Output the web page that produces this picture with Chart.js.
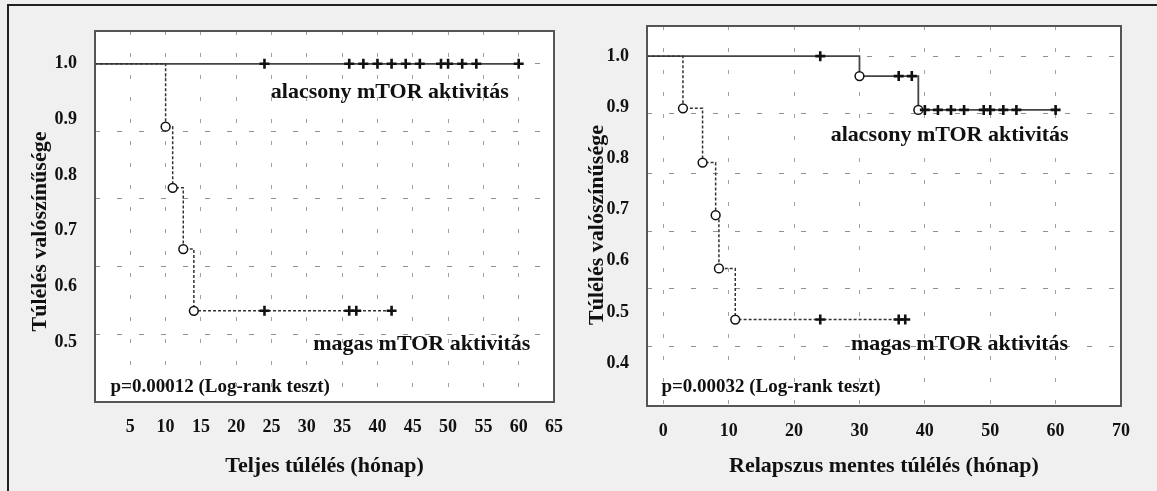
<!DOCTYPE html>
<html>
<head>
<meta charset="utf-8">
<script src="https://cdn.jsdelivr.net/npm/chart.js@4"></script>
<style>
  body { margin: 0; background: #f0f0f0; width: 1157px; height: 491px; overflow: hidden; position: relative; }
  #frame { position: absolute; left: 7px; top: 4px; right: 0; bottom: 0; border-top: 2px solid #222; border-left: 2px solid #222; }
  canvas { position: absolute; top: 0; }
  #left { left: 0; }
  #right { left: 578px; }
</style>
</head>
<body>
<div id="frame"></div>
<canvas id="left" width="578" height="491"></canvas>
<canvas id="right" width="579" height="491"></canvas>
<script>
// Teljes túlélés (bal panel)
const osLowCensored = [24, 36, 38, 40, 42, 44, 46, 49, 50, 52, 54, 60];
const osHighEventTimes = [10, 11, 12.5, 14];
const osHighEventValues = [0.887, 0.777, 0.667, 0.556];
const osHighCensored = [24, 36, 37, 42];
const osXTicks = [5, 10, 15, 20, 25, 30, 35, 40, 45, 50, 55, 60, 65];
const osYTicks = [0.5, 0.6, 0.7, 0.8, 0.9, 1.0];
const osGridY = [1.0, 0.879, 0.757, 0.635, 0.514];

// Relapszus mentes túlélés (jobb panel)
const rfsLowEventTimes = [30, 39];
const rfsLowEventValues = [0.961, 0.895];
const rfsLowCensored = [24, 36, 38, 40, 42, 44, 46, 49, 50, 52, 54, 60];
const rfsHighEventTimes = [3, 6, 8, 8.5, 11];
const rfsHighEventValues = [0.898, 0.792, 0.689, 0.585, 0.485];
const rfsHighCensored = [24, 36, 37];
const rfsXTicks = [0, 10, 20, 30, 40, 50, 60, 70];
const rfsYTicks = [0.4, 0.5, 0.6, 0.7, 0.8, 0.9, 1.0];
const rfsGridY = [1.0, 0.887, 0.771, 0.658, 0.545, 0.432];

const osNotes = [
  { text: "alacsony mTOR aktivitás", x: 24.9, y: 0.948, size: 22 },
  { text: "magas mTOR aktivitás", x: 30.9, y: 0.495, size: 22 },
  { text: "p=0.00012 (Log-rank teszt)", x: 2.2, y: 0.419, size: 19 },
];
const rfsNotes = [
  { text: "alacsony mTOR aktivitás", x: 25.6, y: 0.846, size: 22 },
  { text: "magas mTOR aktivitás", x: 28.7, y: 0.436, size: 22 },
  { text: "p=0.00032 (Log-rank teszt)", x: -0.3, y: 0.352, size: 19 },
];

const yTitle = "Túlélés valószínűsége";
const serif = "'Liberation Serif', 'Times New Roman', serif";

// Kaplan-Meier pontok: kezdő pont, események (kör), cenzorált (kereszt)
function kmPoints(start, eventTimes, eventValues, censored) {
  const pts = [{ x: start, y: 1, m: null }];
  eventTimes.forEach((t, i) => pts.push({ x: t, y: eventValues[i], m: "circle" }));
  censored.forEach((t) => {
    let s = 1;
    eventTimes.forEach((e, i) => { if (e <= t) s = eventValues[i]; });
    pts.push({ x: t, y: s, m: "cross" });
  });
  return pts.sort((a, b) => a.x - b.x);
}

function series(points, dashed) {
  return {
    data: points,
    borderColor: dashed ? "#333" : "#444",
    borderWidth: dashed ? 1.5 : 1.8,
    borderDash: dashed ? [3, 2] : [],
    stepped: "before",
    fill: false,
    pointStyle: (c) => (c.raw && c.raw.m) || "circle",
    pointRadius: (c) => (!c.raw || !c.raw.m ? 0 : c.raw.m === "circle" ? 4.4 : 5),
    pointBorderWidth: (c) => (c.raw && c.raw.m === "cross" ? 2.6 : 1.5),
    pointBackgroundColor: "#fff",
    pointBorderColor: "#111",
    pointHoverRadius: 0,
  };
}

const framePlugin = {
  id: "frame",
  beforeDraw(chart) {
    const a = chart.chartArea;
    const ctx = chart.ctx;
    ctx.save();
    ctx.fillStyle = "#fff";
    ctx.fillRect(a.left, a.top, a.right - a.left, a.bottom - a.top);
    ctx.restore();
  },
  afterDraw(chart) {
    const a = chart.chartArea;
    const ctx = chart.ctx;
    const o = chart.options.plugins.frame;
    ctx.save();
    ctx.strokeStyle = "#555";
    ctx.lineWidth = 2;
    ctx.strokeRect(a.left, a.top, a.right - a.left, a.bottom - a.top);
    ctx.fillStyle = "#111";
    ctx.textAlign = "left";
    ctx.textBaseline = "middle";
    o.notes.forEach((n) => {
      ctx.font = "bold " + n.size + "px " + serif;
      ctx.fillText(n.text, chart.scales.x.getPixelForValue(n.x), chart.scales.y.getPixelForValue(n.y));
    });
    // függőleges tengelycím
    ctx.translate(o.titleX, (a.top + a.bottom) / 2 + o.titleShift);
    ctx.rotate(-Math.PI / 2);
    ctx.textAlign = "center";
    ctx.font = "bold 22px " + serif;
    ctx.fillText(yTitle, 0, 0);
    ctx.restore();
  },
};

function makeChart(id, cfg) {
  return new Chart(document.getElementById(id), {
    type: "line",
    data: { datasets: [series(cfg.high, true), series(cfg.low, false)] },
    plugins: [framePlugin],
    options: {
      responsive: false,
      animation: false,
      layout: { padding: cfg.padding },
      plugins: {
        legend: { display: false },
        tooltip: { enabled: false },
        frame: { notes: cfg.notes, titleX: cfg.titleX, titleShift: cfg.titleShift },
      },
      scales: {
        x: {
          type: "linear",
          min: cfg.xMin,
          max: cfg.xMax,
          afterBuildTicks: (s) => { s.ticks = cfg.xTicks.map((v) => ({ value: v })); },
          afterFit: (s) => { s.height = cfg.xHeight; },
          grid: { color: "#a0a0a0", lineWidth: 1, drawTicks: false, borderDash: [4, 18] },
          border: { display: false, dash: [4, 18] },
          ticks: { color: "#111", font: { family: serif, size: 18, weight: "bold" }, padding: 15, maxRotation: 0 },
          title: { display: true, text: cfg.xTitle, color: "#111", font: { family: serif, size: 22, weight: "bold" }, padding: { top: 0, bottom: 11 } },
        },
        y: {
          min: cfg.yMin,
          max: cfg.yMax,
          afterBuildTicks: (s) => { s.ticks = cfg.yTicks.map((v) => ({ value: v })); },
          afterFit: (s) => { s.width = cfg.yWidth; },
          grid: { display: false },
          border: { display: false },
          ticks: { color: "#111", font: { family: serif, size: 18, weight: "bold" }, padding: 10, callback: (v) => v.toFixed(1) },
        },
        yg: {
          position: "right",
          min: cfg.yMin,
          max: cfg.yMax,
          afterBuildTicks: (s) => { s.ticks = cfg.gridY.map((v) => ({ value: v })); },
          afterFit: (s) => { s.width = 0; },
          grid: { color: "#909090", lineWidth: 1, drawTicks: false, borderDash: [5, 17] },
          border: { display: false, dash: [5, 17] },
          ticks: { display: false },
        },
      },
    },
  });
}

makeChart("left", {
  low: kmPoints(0, [], [], osLowCensored),
  high: kmPoints(0, osHighEventTimes, osHighEventValues, osHighCensored),
  notes: osNotes,
  xMin: 0, xMax: 65, yMin: 0.392, yMax: 1.059,
  xTicks: osXTicks, yTicks: osYTicks, gridY: osGridY,
  xTitle: "Teljes túlélés (hónap)",
  padding: { top: 31, right: 24, bottom: 0, left: 0 },
  xHeight: 89, yWidth: 95, titleX: 40, titleShift: 15,
});

makeChart("right", {
  low: kmPoints(-2.5, rfsLowEventTimes, rfsLowEventValues, rfsLowCensored),
  high: kmPoints(-2.5, rfsHighEventTimes, rfsHighEventValues, rfsHighCensored),
  notes: rfsNotes,
  xMin: -2.5, xMax: 70, yMin: 0.316, yMax: 1.059,
  xTicks: rfsXTicks, yTicks: rfsYTicks, gridY: rfsGridY,
  xTitle: "Relapszus mentes túlélés (hónap)",
  padding: { top: 26, right: 36, bottom: 0, left: 0 },
  xHeight: 85, yWidth: 69, titleX: 19, titleShift: 9,
});
</script>
</body>
</html>
